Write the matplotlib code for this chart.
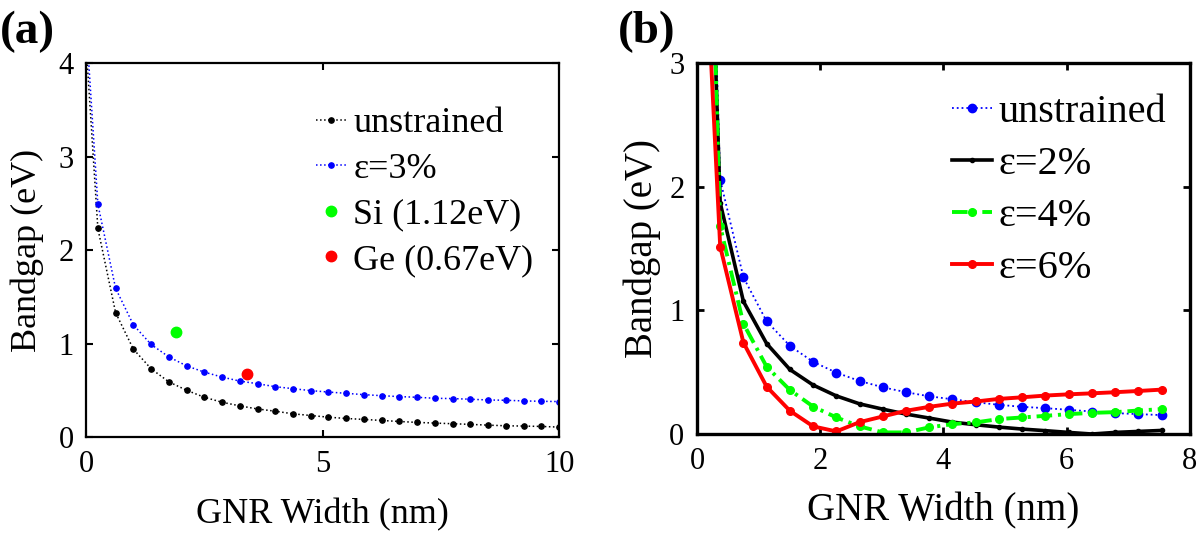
import matplotlib
matplotlib.use("Agg")
import matplotlib.pyplot as plt

plt.rcParams['font.family'] = ['Liberation Serif', 'DejaVu Serif']

# ---------------- Panel (a) data ----------------
a_width = [0.0, 0.25, 0.625, 1.0, 1.375, 1.75, 2.125, 2.5, 2.875, 3.25, 3.625, 4.0,
           4.375, 4.75, 5.125, 5.5, 5.875, 6.25, 6.625, 7.0, 7.375, 7.75, 8.125,
           8.5, 8.875, 9.25, 9.625, 10.0]
a_unstrained = [4.2, 2.23, 1.33, 0.94, 0.73, 0.59, 0.50, 0.425, 0.372, 0.333, 0.30,
                0.276, 0.248, 0.23, 0.212, 0.198, 0.188, 0.177, 0.166, 0.156, 0.149,
                0.142, 0.135, 0.127, 0.12, 0.117, 0.113, 0.106]
a_strain3 = [4.45, 2.49, 1.59, 1.20, 0.99, 0.857, 0.761, 0.694, 0.641, 0.598, 0.570,
             0.538, 0.517, 0.496, 0.481, 0.467, 0.453, 0.442, 0.432, 0.425, 0.414,
             0.411, 0.404, 0.396, 0.393, 0.386, 0.382, 0.379]
si_width, si_gap = [1.90], [1.12]
ge_width, ge_gap = [3.40], [0.67]
a_labels = ['unstrained', 'ε=3%', 'Si (1.12eV)', 'Ge (0.67eV)']

# ---------------- Panel (b) data ----------------
b_width = [0.19, 0.377, 0.754, 1.131, 1.508, 1.885, 2.262, 2.639, 3.016, 3.393, 3.77,
           4.147, 4.524, 4.901, 5.278, 5.655, 6.032, 6.409, 6.786, 7.163, 7.54]
b_unstrained = [5.2, 2.057, 1.267, 0.911, 0.713, 0.584, 0.496, 0.429, 0.378, 0.338,
                0.305, 0.281, 0.257, 0.236, 0.220, 0.209, 0.196, 0.182, 0.169, 0.161,
                0.153]
b_strain2 = [4.68, 1.870, 1.072, 0.731, 0.522, 0.396, 0.308, 0.244, 0.201, 0.161,
             0.129, 0.096, 0.075, 0.056, 0.040, 0.027, 0.013, 0.0, 0.013, 0.021, 0.029]
b_strain4 = [4.96, 1.68, 0.892, 0.544, 0.356, 0.222, 0.134, 0.062, 0.013, 0.013,
             0.054, 0.080, 0.094, 0.121, 0.134, 0.147, 0.161, 0.171, 0.177, 0.190,
             0.201]
b_strain6 = [3.41, 1.516, 0.739, 0.383, 0.188, 0.062, 0.021, 0.096, 0.142, 0.188,
             0.220, 0.246, 0.263, 0.284, 0.297, 0.311, 0.321, 0.329, 0.338, 0.348,
             0.359]
b_labels = ['unstrained', 'ε=2%', 'ε=4%', 'ε=6%']

fig = plt.figure(figsize=(12, 5.33), dpi=100)

# ---------------- Panel (a) ----------------
axa = fig.add_axes([0.0717, 0.1801, 0.3942, 0.7017])
axa.plot(a_width, a_unstrained, color='k', linestyle=':', linewidth=1.1,
         marker='o', markersize=3.8, label=a_labels[0])
axa.plot(a_width, a_strain3, color='b', linestyle=':', linewidth=1.1,
         marker='o', markersize=3.8, label=a_labels[1])
axa.plot(si_width, si_gap, linestyle='none', marker='o', color=(0, 1, 0),
         markersize=7.5, label=a_labels[2])
axa.plot(ge_width, ge_gap, linestyle='none', marker='o', color=(1, 0, 0),
         markersize=7.5, label=a_labels[3])
axa.set_xlim(0, 10)
axa.set_ylim(0, 4)
axa.set_xticks([0, 5, 10])
axa.set_yticks([0, 1, 2, 3, 4])
axa.set_xlabel('GNR Width (nm)', fontsize=26, labelpad=14)
axa.set_ylabel('Bandgap (eV)', fontsize=26, labelpad=10)
axa.tick_params(direction='in', top=True, right=True, length=5, width=1.5,
                labelsize=22, pad=9)
for s in axa.spines.values():
    s.set_linewidth(1.6)
axa.legend(loc='upper left', bbox_to_anchor=(0.486, 0.882), frameon=False,
           fontsize=26, handlelength=0.85, handletextpad=0.18,
           labelspacing=0.34, borderpad=0, borderaxespad=0)
fig.text(0.0, 0.94, '(a)', fontsize=34, fontweight='bold', va='center', ha='left')

# ---------------- Panel (b) ----------------
axb = fig.add_axes([0.5808, 0.1857, 0.4108, 0.6961])
axb.plot(b_width, b_unstrained, color='b', linestyle=':', linewidth=1.3,
         marker='o', markersize=6, label=b_labels[0])
axb.plot(b_width, b_strain2, color='k', linestyle='-', linewidth=2.6,
         marker='o', markersize=3, label=b_labels[1])
axb.plot(b_width, b_strain4, color=(0, 1, 0), linestyle=(0, (4, 1.5, 0.8, 1.5)),
         linewidth=2.8, marker='o', markersize=5.5, label=b_labels[2])
axb.plot(b_width, b_strain6, color=(1, 0, 0), linestyle='-', linewidth=2.8,
         marker='o', markersize=5.5, label=b_labels[3])
axb.set_xlim(0, 8)
axb.set_ylim(0, 3)
axb.set_xticks([0, 2, 4, 6, 8])
axb.set_yticks([0, 1, 2, 3])
axb.set_xlabel('GNR Width (nm)', fontsize=28, labelpad=12)
axb.set_ylabel('Bandgap (eV)', fontsize=28, labelpad=6)
axb.tick_params(direction='in', top=True, right=True, length=5, width=2,
                labelsize=22, pad=9)
for s in axb.spines.values():
    s.set_linewidth(2.4)
axb.legend(loc='upper left', bbox_to_anchor=(0.517, 0.918), frameon=False,
           fontsize=29, handlelength=1.0, handletextpad=0.15,
           labelspacing=0.37, borderpad=0, borderaxespad=0)
fig.text(0.515, 0.94, '(b)', fontsize=34, fontweight='bold', va='center', ha='left')

fig.savefig('out.png', dpi=100)
